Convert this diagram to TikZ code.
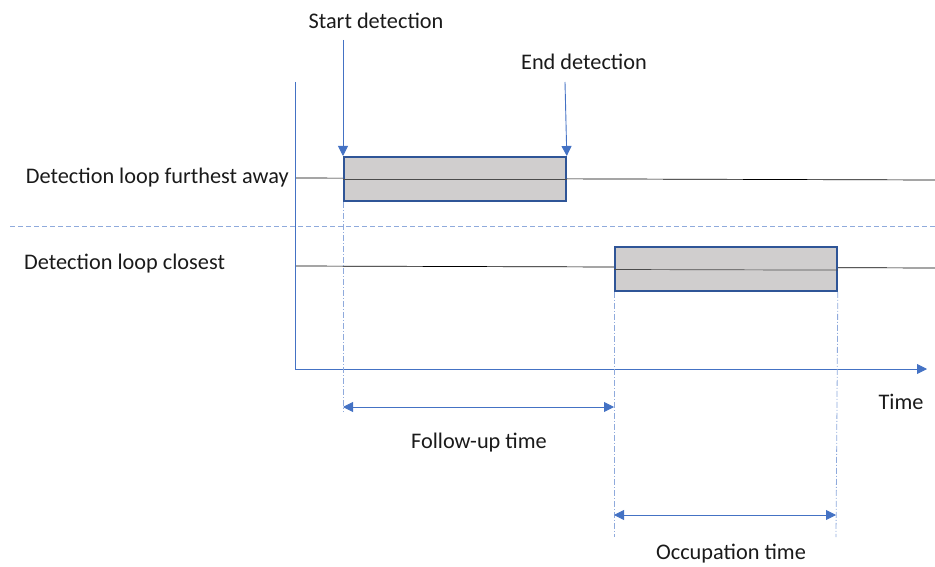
\documentclass[tikz,border=0pt]{standalone}
\usepackage{fontspec}
\setmainfont{Carlito}
\usetikzlibrary{arrows.meta}
\definecolor{axblue}{HTML}{4472C4}
\definecolor{lightblue}{HTML}{8FAADC}
\definecolor{boxfill}{HTML}{D0CECE}
\definecolor{boxedge}{HTML}{2F5597}
\definecolor{txt}{HTML}{1A1A1A}
\begin{document}
\begin{tikzpicture}[x=1pt,y=-1pt,
  lbl/.style={font=\fontsize{22.3}{26}\selectfont,text=txt,inner sep=0pt},
  detbox/.style={draw=boxedge,line width=1.8pt,fill=boxfill,inner sep=0pt,minimum width=222pt,minimum height=44pt},
  axisline/.style={draw=axblue,line width=0.9pt},
  guide/.style={draw=lightblue,line width=0.8pt,dash pattern=on 6pt off 2pt on 1pt off 2pt},
  sep/.style={draw=lightblue,line width=0.9pt,dash pattern=on 5pt off 3pt},
  tip/.style={-{Triangle[length=10pt,width=10pt]}},
  dtip/.style={{Triangle[length=10pt,width=10pt]}-{Triangle[length=10pt,width=10pt]}}]
\useasboundingbox (0,0) rectangle (935,567);
% coordinates
\coordinate (yTop) at (295,82);
\coordinate (orig) at (295,369);
\coordinate (xEnd) at (927,369);
\coordinate (l1a) at (295,178);
\coordinate (l1b) at (935,180);
\coordinate (l2a) at (295,266);
\coordinate (l2b) at (935,268);
\coordinate (sepa) at (10,226);
\coordinate (sepb) at (935,226);
% separator and loop lines
\draw[sep] (sepa) -- (sepb);
\draw[black,line width=0.7pt] (l1a) -- (l1b);
\draw[black,line width=0.7pt] (l2a) -- (l2b);
% boxes
\node[detbox,anchor=north west] (b1) at (343,156) {};
\node[detbox,anchor=north west] (b2) at (614,246) {};
\draw[black!70,line width=0.7pt] (b1.west) -- (b1.east);
\draw[black!70,line width=0.7pt] ([yshift=-0.6pt]b2.west) -- ([yshift=-1.2pt]b2.east);
% axes
\draw[axisline] (yTop) -- (orig);
\draw[axisline,tip] (orig) -- (xEnd);
% guides
\coordinate (g1) at (343,412);
\coordinate (g2) at (614,537);
\coordinate (g3) at (836,537);
\draw[guide] (b1.south west) -- (g1);
\draw[guide] (b2.south west) -- (g2);
\draw[guide] (b2.south east) -- (g3);
% detection arrows
\coordinate (sArr) at (343,40);
\coordinate (eArr) at (565,82);
\draw[axisline,tip] (sArr) -- (b1.north west);
\draw[axisline,tip] (eArr) -- (b1.north east);
% labels
\node[lbl] (tStart) at (376,21) {Start detection};
\node[lbl] (tEnd) at (584,62) {End detection};
\node[lbl,anchor=east] (tFar) at (289,178) {Detection loop furthest away};
\node[lbl,anchor=west] (tClose) at (24,264) {Detection loop closest};
\node[lbl] (tTime) at (901,402) {Time};
% dimension arrows
\coordinate (f1) at (343,407);
\coordinate (f2) at (614,407);
\coordinate (o1) at (614,515);
\coordinate (o2) at (836,515);
\draw[axisline,dtip] (f1) -- (f2);
\draw[axisline,dtip] (o1) -- (o2);
\node[lbl] (tFollow) at (479,443) {Follow-up time};
\node[lbl] (tOcc) at (731,554) {Occupation time};
\end{tikzpicture}
\end{document}
